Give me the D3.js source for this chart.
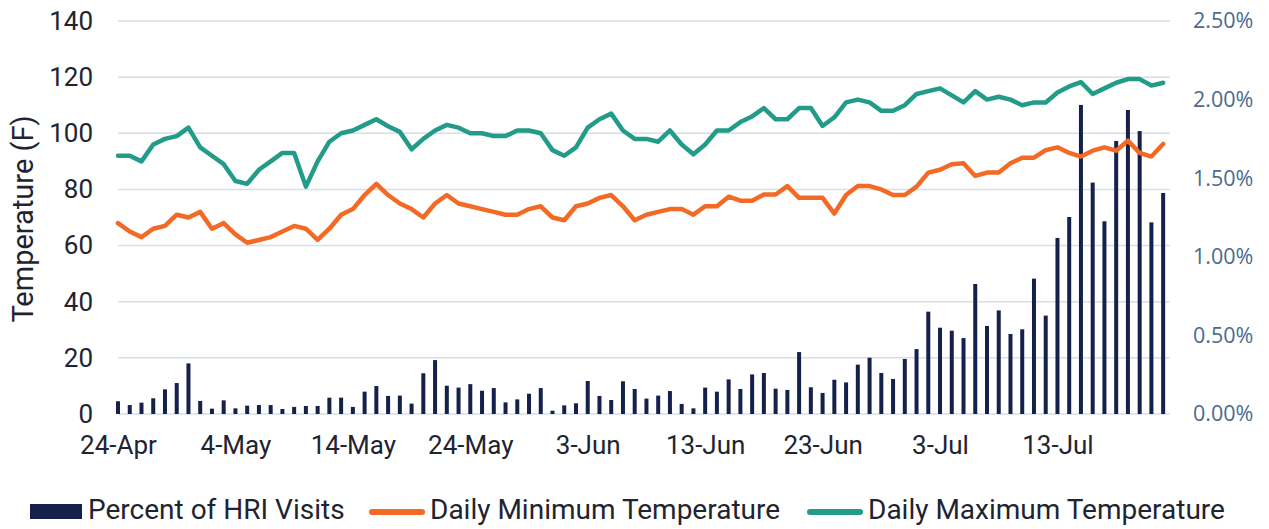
<!DOCTYPE html>
<html>
<head>
<meta charset="utf-8">
<script src="https://cdn.jsdelivr.net/npm/d3@7"></script>
<style>
  body { margin: 0; background: #fff; }
  svg { display: block; font-family: Roboto, "Noto Sans", sans-serif; }
</style>
</head>
<body>
<svg id="chart" width="1269" height="529"></svg>
<script>
// Daily values, 24-Apr through 22-Jul
const startDate = new Date(2023, 3, 24);
const endDate = new Date(2023, 6, 23);

const hriPct = [
  0.081, 0.057, 0.072, 0.10, 0.157, 0.197, 0.322, 0.083, 0.034, 0.087,
  0.036, 0.053, 0.057, 0.057, 0.032, 0.045, 0.051, 0.051, 0.104, 0.104,
  0.045, 0.142, 0.178, 0.115, 0.117, 0.066, 0.259, 0.343, 0.18, 0.168,
  0.19, 0.148, 0.165, 0.074, 0.093, 0.129, 0.165, 0.021, 0.055, 0.068,
  0.21, 0.115, 0.089, 0.208, 0.159, 0.098, 0.117, 0.146, 0.064, 0.036,
  0.168, 0.142, 0.22, 0.159, 0.252, 0.261, 0.161, 0.153, 0.394, 0.17,
  0.134, 0.218, 0.201, 0.314, 0.358, 0.261, 0.223, 0.35, 0.413, 0.651,
  0.549, 0.53, 0.483, 0.827, 0.56, 0.659, 0.509, 0.539, 0.861, 0.626,
  1.12, 1.253, 1.966, 1.472, 1.226, 1.737, 1.934, 1.80, 1.219, 1.406
];

const minTemp = [
  68, 65, 63, 66, 67, 71, 70, 72, 66, 68,
  64, 61, 62, 63, 65, 67, 66, 62, 66, 71,
  73, 78, 82, 78, 75, 73, 70, 75, 78, 75,
  74, 73, 72, 71, 71, 73, 74, 70, 69, 74,
  75, 77, 78, 74, 69, 71, 72, 73, 73, 71,
  74, 74, 77.4, 76, 76, 78.2, 78.2, 81.2, 77, 77,
  77, 71.4, 78, 81.2, 81.2, 80, 78, 78, 81, 86,
  87, 89, 89.3, 84.8, 86, 86, 89.3, 91.3, 91.3, 94,
  95, 93, 91.7, 93.8, 95, 93.8, 97.4, 93, 91.7, 96.2
];

const maxTemp = [
  92, 92, 90, 96, 98, 99, 102, 95, 92, 89,
  83, 82, 87, 90, 93, 93, 81, 90, 97, 100,
  101, 103, 105, 102.5, 100.5, 94.3, 98, 101, 103, 102,
  100, 100, 99, 99, 101, 101, 100, 94, 92, 95,
  102, 105, 107, 101, 98, 98, 97, 101, 96, 92.5,
  96, 101, 101, 104, 106, 109, 105, 105, 109, 109,
  102.6, 105.7, 111, 112, 111, 108, 108, 110, 114, 115,
  116, 113.5, 111, 115, 112, 113, 112, 110, 111, 111,
  114.5, 116.7, 118.2, 114, 116, 118, 119.3, 119.3, 117, 118
];

const tempTicks = [0, 20, 40, 60, 80, 100, 120, 140];
const pctTicks = [0, 0.5, 1.0, 1.5, 2.0, 2.5];

const legendItems = [
  { label: 'Percent of HRI Visits', type: 'bar', color: '#15214b' },
  { label: 'Daily Minimum Temperature', type: 'line', color: '#f26a25' },
  { label: 'Daily Maximum Temperature', type: 'line', color: '#229b89' }
];

const dates = d3.timeDay.range(startDate, endDate);
const rows = dates.map((d, i) => ({ date: d, pct: hriPct[i], lo: minTemp[i], hi: maxTemp[i] }));

const svg = d3.select('#chart');
const plotLeft = 118, plotRight = 1170, plotTop = 21, plotBottom = 414;

// scales
const x = d3.scaleTime()
  .domain([startDate, d3.timeHour.offset(startDate, Math.round(89.6 * 24))])
  .range([plotLeft, plotRight]);
const yT = d3.scaleLinear().domain([0, 140]).range([plotBottom, plotTop]);
const yP = d3.scaleLinear().domain([0, 2.5]).range([plotBottom, plotTop]);

// gridlines
svg.append('g')
  .selectAll('line')
  .data(tempTicks)
  .join('line')
  .attr('x1', plotLeft).attr('x2', plotRight)
  .attr('y1', d => yT(d)).attr('y2', d => yT(d))
  .attr('stroke', '#d6dee9')
  .attr('stroke-width', 1.5);

// left axis
const leftAxis = svg.append('g')
  .attr('transform', `translate(${plotLeft - 25},0)`)
  .call(d3.axisLeft(yT).tickValues(tempTicks).tickSize(0).tickPadding(0));
leftAxis.select('.domain').remove();
leftAxis.selectAll('text')
  .attr('font-size', 26)
  .attr('fill', '#1e2430')
  .attr('font-family', 'Roboto, sans-serif');

// right axis
const rightAxis = svg.append('g')
  .attr('transform', `translate(${plotRight + 23},0)`)
  .call(d3.axisRight(yP).tickValues(pctTicks).tickSize(0).tickPadding(0)
    .tickFormat(d => d.toFixed(2) + '%'));
rightAxis.select('.domain').remove();
rightAxis.selectAll('text')
  .attr('font-size', 21.5)
  .attr('fill', '#4b6a8d')
  .attr('font-family', '"Open Sans", sans-serif');

// bottom axis labels
const tickDates = dates.filter((d, i) => i % 10 === 0);
const bottomAxis = svg.append('g')
  .attr('transform', `translate(0,${plotBottom + 22})`)
  .call(d3.axisBottom(x).tickValues(tickDates).tickSize(0).tickPadding(0)
    .tickFormat(d3.timeFormat('%-d-%b')));
bottomAxis.select('.domain').remove();
bottomAxis.selectAll('text')
  .attr('font-size', 26)
  .attr('fill', '#1e2430')
  .attr('font-family', 'Roboto, sans-serif');

// y axis title
svg.append('text')
  .attr('transform', 'translate(33,219) rotate(-90)')
  .attr('text-anchor', 'middle')
  .attr('font-size', 29)
  .attr('fill', '#1e2430')
  .text('Temperature (F)');

// bars
const barW = 4;
svg.append('g')
  .selectAll('rect')
  .data(rows)
  .join('rect')
  .attr('x', d => x(d.date) - barW / 2)
  .attr('y', d => yP(d.pct))
  .attr('width', barW)
  .attr('height', d => plotBottom - yP(d.pct))
  .attr('fill', legendItems[0].color);

// lines
const lineLo = d3.line().x(d => x(d.date)).y(d => yT(d.lo));
const lineHi = d3.line().x(d => x(d.date)).y(d => yT(d.hi));

svg.append('path')
  .datum(rows)
  .attr('d', lineLo)
  .attr('fill', 'none')
  .attr('stroke', legendItems[1].color)
  .attr('stroke-width', 4.5)
  .attr('stroke-linejoin', 'round')
  .attr('stroke-linecap', 'round');

svg.append('path')
  .datum(rows)
  .attr('d', lineHi)
  .attr('fill', 'none')
  .attr('stroke', legendItems[2].color)
  .attr('stroke-width', 4.5)
  .attr('stroke-linejoin', 'round')
  .attr('stroke-linecap', 'round');

// legend
const legendX = [30, 369, 807];
const legend = svg.append('g');
legendItems.forEach((item, i) => {
  const g = legend.append('g').attr('transform', `translate(${legendX[i]},512)`);
  if (item.type === 'bar') {
    g.append('rect').attr('x', 0).attr('y', -8).attr('width', 52).attr('height', 15).attr('fill', item.color);
  } else {
    g.append('line').attr('x1', 3).attr('x2', 53).attr('y1', 0).attr('y2', 0)
      .attr('stroke', item.color).attr('stroke-width', 6).attr('stroke-linecap', 'round');
  }
  g.append('text')
    .attr('x', item.type === 'bar' ? 58 : 61)
    .attr('y', 7)
    .attr('font-size', 28)
    .attr('fill', '#1e2430')
    .text(item.label);
});
</script>
</body>
</html>
